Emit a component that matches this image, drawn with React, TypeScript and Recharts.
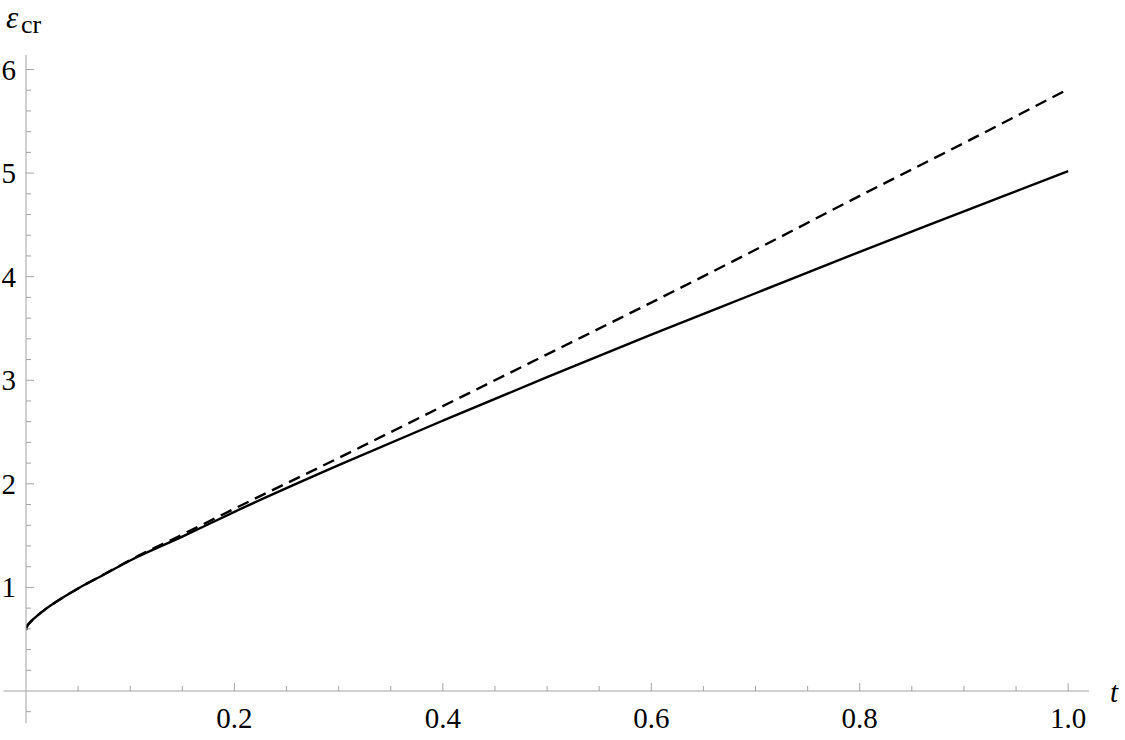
import React from 'react';
import { LineChart, Line, XAxis, YAxis, ReferenceLine, Label } from 'recharts';

// ---- data ----
const tValues = [0, 0.001, 0.003, 0.006, 0.01, 0.02, 0.035, 0.05, 0.075, 0.1, 0.15, 0.2, 0.3, 0.4, 0.5, 0.6, 0.7, 0.8, 0.9, 1.0];
const solidValues = [0.59, 0.625, 0.652, 0.685, 0.72, 0.8, 0.9, 0.99, 1.125, 1.26, 1.49, 1.73, 2.18, 2.61, 3.03, 3.44, 3.84, 4.24, 4.63, 5.02];
const dashedValues = [0.59, 0.625, 0.652, 0.685, 0.72, 0.8, 0.9, 0.99, 1.127, 1.265, 1.51, 1.76, 2.25, 2.75, 3.25, 3.75, 4.26, 4.78, 5.29, 5.81];

const xMajorTicks = [0.2, 0.4, 0.6, 0.8, 1.0];
const xMinorTicks = [0.05, 0.1, 0.15, 0.25, 0.3, 0.35, 0.45, 0.5, 0.55, 0.65, 0.7, 0.75, 0.85, 0.9, 0.95];
const yMajorTicks = [1, 2, 3, 4, 5, 6];
const yMinorTicks = [
  0.2, 0.4, 0.6, 0.8, 1.2, 1.4, 1.6, 1.8, 2.2, 2.4, 2.6, 2.8, 3.2, 3.4, 3.6, 3.8,
  4.2, 4.4, 4.6, 4.8, 5.2, 5.4, 5.6, 5.8,
];
const yBelowTicks = [-0.2];
const xDomain: [number, number] = [0, 1.02];
const yDomain: [number, number] = [0, 6.14];
const xAxisLeftExtent = -0.0216;
const yAxisBottomExtent = -0.312;

const data = tValues.map((t, i) => ({ t, solid: solidValues[i], dashed: dashedValues[i] }));
const xTicks = [...xMajorTicks, ...xMinorTicks].sort((a, b) => a - b);
const yTicks = [...yMajorTicks, ...yMinorTicks].sort((a, b) => a - b);

const AXIS_COLOR = '#a3a3a3';
const FONT = 'Liberation Serif';

const XTick = (props: any) => {
  const { x, y, payload } = props;
  const major = xMajorTicks.some((m) => Math.abs(m - payload.value) < 1e-9);
  return (
    <g>
      <line x1={x} y1={y} x2={x} y2={y - (major ? 8 : 5)} stroke={AXIS_COLOR} strokeWidth={1} />
      {major && (
        <text x={x} y={y + 37} textAnchor="middle" fontFamily={FONT} fontSize={29} fill="#000">
          {Number(payload.value).toFixed(1)}
        </text>
      )}
    </g>
  );
};

const YTick = (props: any) => {
  const { x, y, payload } = props;
  const major = yMajorTicks.some((m) => Math.abs(m - payload.value) < 1e-9);
  return (
    <g>
      <line x1={x} y1={y} x2={x + (major ? 8 : 5)} y2={y} stroke={AXIS_COLOR} strokeWidth={1} />
      {major && (
        <text x={x - 10} y={y + 10} textAnchor="end" fontFamily={FONT} fontSize={29} fill="#000">
          {String(payload.value)}
        </text>
      )}
    </g>
  );
};

const XTitle = (props: any) => {
  const vb = props.viewBox || {};
  return (
    <text x={vb.x + vb.width + 21} y={vb.y + 11} fontFamily={FONT} fontStyle="italic" fontSize={29} fill="#000">
      t
    </text>
  );
};

const YTitle = (props: any) => {
  const vb = props.viewBox || {};
  return (
    <g>
      <text x={vb.x + 6} y={vb.y - 27} fontFamily={FONT} fontStyle="italic" fontSize={31} fill="#000">
        ε
      </text>
      <text x={vb.x + 21} y={vb.y - 22} fontFamily={FONT} fontSize={26} fill="#000">
        cr
      </text>
    </g>
  );
};

export default function App() {
  return (
    <div style={{ position: 'absolute', left: 0, top: 0, width: 1125, height: 740, background: '#fff' }}>
      <LineChart width={1125} height={740} data={data} margin={{ top: 55, right: 36, bottom: 0, left: 0 }}>
        <XAxis
          dataKey="t"
          type="number"
          domain={xDomain}
          allowDataOverflow
          ticks={xTicks}
          interval={0}
          tickSize={0}
          tickMargin={0}
          height={49}
          axisLine={{ stroke: AXIS_COLOR, strokeWidth: 1 }}
          tickLine={false}
          tick={<XTick />}
        >
          <Label content={<XTitle />} />
        </XAxis>
        <YAxis
          type="number"
          domain={yDomain}
          allowDataOverflow
          ticks={yTicks}
          interval={0}
          tickSize={0}
          tickMargin={0}
          width={26}
          axisLine={{ stroke: AXIS_COLOR, strokeWidth: 1 }}
          tickLine={false}
          tick={<YTick />}
        >
          <Label content={<YTitle />} />
        </YAxis>
        <ReferenceLine
          segment={[{ x: xAxisLeftExtent, y: 0 }, { x: 0, y: 0 }]}
          ifOverflow="visible"
          stroke={AXIS_COLOR}
          strokeWidth={1}
        />
        <ReferenceLine
          segment={[{ x: 0, y: yAxisBottomExtent }, { x: 0, y: 0 }]}
          ifOverflow="visible"
          stroke={AXIS_COLOR}
          strokeWidth={1}
        />
        {yBelowTicks.map((v) => (
          <ReferenceLine
            key={v}
            segment={[{ x: 0, y: v }, { x: 0.0048, y: v }]}
            ifOverflow="visible"
            stroke={AXIS_COLOR}
            strokeWidth={1}
          />
        ))}
        <Line
          type="monotone"
          dataKey="dashed"
          stroke="#000"
          strokeWidth={2.4}
          strokeDasharray="12 7"
          dot={false}
          isAnimationActive={false}
        />
        <Line
          type="monotone"
          dataKey="solid"
          stroke="#000"
          strokeWidth={2.4}
          dot={false}
          isAnimationActive={false}
        />
      </LineChart>
    </div>
  );
}
